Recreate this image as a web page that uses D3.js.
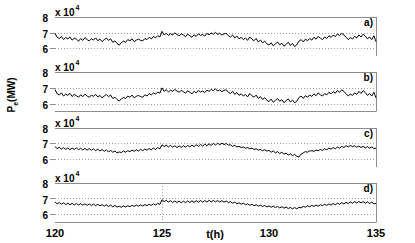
<!DOCTYPE html>
<html>
<head>
<meta charset="utf-8">
<script src="https://cdn.jsdelivr.net/npm/d3@7"></script>
<style>
  body { margin: 0; background: #fff; }
  svg { display: block; }
  text { font-family: "Liberation Sans", Arial, sans-serif; font-weight: bold; fill: #000; }
</style>
</head>
<body>
<div id="chart"></div>
<script>
// sampling of the traces (hours)
var t0 = 120, dt = 0.1;

// Pe in units of 10^4 MW, one row per hour
var seriesA = [
  6.95, 6.70, 6.62, 6.75, 6.55, 6.68, 6.60, 6.72, 6.52, 6.64,
  6.58, 6.45, 6.62, 6.50, 6.68, 6.55, 6.47, 6.60, 6.52, 6.66,
  6.48, 6.58, 6.42, 6.55, 6.65, 6.50, 6.60, 6.38, 6.47, 6.30,
  6.20, 6.35, 6.45, 6.38, 6.55, 6.48, 6.60, 6.42, 6.52, 6.58,
  6.50, 6.47, 6.62, 6.55, 6.70, 6.60, 6.75, 6.66, 6.80, 6.72,
  7.08, 6.85, 6.95, 6.82, 6.92, 6.86, 6.98, 6.88, 6.80, 6.92,
  6.85, 6.74, 6.90, 6.80, 6.70, 6.86, 6.76, 6.92, 6.82, 6.88,
  6.78, 6.95, 6.86, 6.98, 6.90, 7.02, 6.88, 6.96, 6.84, 6.92,
  6.95, 6.80, 6.72, 6.85, 6.65, 6.78, 6.60, 6.70, 6.55, 6.66,
  6.50, 6.72, 6.58, 6.48, 6.62, 6.40, 6.52, 6.34, 6.45, 6.28,
  6.20, 6.35, 6.15, 6.28, 6.40, 6.22, 6.32, 6.12, 6.25, 6.38,
  6.18, 6.30, 6.10, 6.22, 6.45, 6.55, 6.40, 6.58, 6.48, 6.62,
  6.52, 6.70, 6.58, 6.76, 6.64, 6.55, 6.72, 6.62, 6.80, 6.70,
  6.84, 6.74, 6.92, 6.80, 6.95, 6.85, 6.70, 6.55, 6.68, 6.60,
  6.75, 6.66, 6.85, 6.72, 6.90, 6.78, 6.60, 6.72, 6.55, 6.80,
  6.42
];

var seriesB = [
  6.90, 6.62, 6.55, 6.68, 6.48, 6.60, 6.52, 6.65, 6.45, 6.58,
  6.50, 6.40, 6.56, 6.44, 6.60, 6.48, 6.40, 6.54, 6.46, 6.58,
  6.42, 6.52, 6.36, 6.48, 6.58, 6.44, 6.54, 6.32, 6.40, 6.26,
  6.15, 6.30, 6.38, 6.32, 6.48, 6.40, 6.54, 6.36, 6.46, 6.52,
  6.44, 6.40, 6.56, 6.48, 6.64, 6.54, 6.68, 6.60, 6.74, 6.66,
  7.00, 6.78, 6.88, 6.75, 6.85, 6.78, 6.90, 6.80, 6.72, 6.84,
  6.76, 6.66, 6.82, 6.72, 6.62, 6.78, 6.68, 6.84, 6.74, 6.80,
  6.70, 6.86, 6.78, 6.90, 6.82, 6.94, 6.80, 6.88, 6.76, 6.84,
  6.88, 6.72, 6.64, 6.78, 6.58, 6.70, 6.52, 6.62, 6.48, 6.58,
  6.42, 6.64, 6.50, 6.40, 6.54, 6.32, 6.44, 6.26, 6.38, 6.20,
  6.12, 6.28, 6.08, 6.20, 6.32, 6.14, 6.24, 6.05, 6.18, 6.30,
  6.10, 6.22, 6.04, 6.15, 6.38, 6.48, 6.32, 6.50, 6.40, 6.55,
  6.45, 6.62, 6.50, 6.68, 6.56, 6.48, 6.64, 6.55, 6.72, 6.62,
  6.76, 6.66, 6.84, 6.72, 6.88, 6.78, 6.62, 6.48, 6.60, 6.52,
  6.68, 6.58, 6.78, 6.64, 6.82, 6.70, 6.52, 6.64, 6.48, 6.72,
  6.36
];

var seriesC = [
  6.78, 6.66, 6.74, 6.62, 6.72, 6.60, 6.70, 6.58, 6.69, 6.60,
  6.70, 6.58, 6.68, 6.56, 6.67, 6.55, 6.66, 6.54, 6.64, 6.52,
  6.62, 6.50, 6.60, 6.48, 6.58, 6.44, 6.54, 6.42, 6.50, 6.38,
  6.44, 6.40, 6.50, 6.42, 6.52, 6.46, 6.56, 6.48, 6.58, 6.50,
  6.60, 6.52, 6.63, 6.55, 6.66, 6.58, 6.69, 6.60, 6.72, 6.64,
  6.90, 6.78, 6.88, 6.76, 6.86, 6.74, 6.84, 6.72, 6.83, 6.73,
  6.84, 6.74, 6.86, 6.76, 6.88, 6.78, 6.90, 6.80, 6.92, 6.82,
  6.94, 6.84, 6.96, 6.86, 6.98, 6.88, 7.00, 6.90, 7.00, 6.91,
  6.98, 6.88, 6.90, 6.80, 6.86, 6.76, 6.80, 6.72, 6.76, 6.68,
  6.72, 6.64, 6.68, 6.60, 6.64, 6.56, 6.60, 6.52, 6.58, 6.50,
  6.54, 6.42, 6.50, 6.38, 6.46, 6.34, 6.42, 6.30, 6.36, 6.24,
  6.32, 6.20, 6.28, 6.16, 6.12, 6.30, 6.38, 6.46, 6.42, 6.50,
  6.52, 6.48, 6.56, 6.52, 6.60, 6.54, 6.64, 6.58, 6.68, 6.62,
  6.72, 6.64, 6.76, 6.68, 6.80, 6.72, 6.84, 6.76, 6.86, 6.78,
  6.84, 6.74, 6.82, 6.72, 6.80, 6.70, 6.78, 6.68, 6.76, 6.66,
  6.68
];

var seriesD = [
  6.78, 6.66, 6.74, 6.63, 6.72, 6.61, 6.70, 6.60, 6.69, 6.59,
  6.68, 6.58, 6.67, 6.57, 6.66, 6.56, 6.65, 6.55, 6.64, 6.54,
  6.63, 6.53, 6.61, 6.51, 6.60, 6.49, 6.58, 6.47, 6.56, 6.45,
  6.50, 6.44, 6.52, 6.46, 6.54, 6.47, 6.56, 6.49, 6.58, 6.51,
  6.59, 6.52, 6.61, 6.54, 6.63, 6.56, 6.66, 6.58, 6.68, 6.62,
  6.92, 6.80, 6.88, 6.77, 6.86, 6.75, 6.84, 6.74, 6.83, 6.73,
  6.83, 6.73, 6.84, 6.74, 6.85, 6.75, 6.86, 6.76, 6.87, 6.77,
  6.87, 6.77, 6.88, 6.78, 6.88, 6.78, 6.87, 6.77, 6.86, 6.76,
  6.84, 6.74, 6.80, 6.70, 6.77, 6.66, 6.73, 6.63, 6.70, 6.60,
  6.66, 6.57, 6.63, 6.54, 6.60, 6.51, 6.57, 6.49, 6.55, 6.46,
  6.53, 6.44, 6.51, 6.42, 6.49, 6.40, 6.47, 6.38, 6.45, 6.36,
  6.43, 6.34, 6.42, 6.33, 6.44, 6.40, 6.50, 6.44, 6.53, 6.47,
  6.56, 6.49, 6.58, 6.51, 6.60, 6.54, 6.63, 6.56, 6.65, 6.58,
  6.68, 6.60, 6.70, 6.63, 6.73, 6.65, 6.75, 6.68, 6.78, 6.70,
  6.80, 6.71, 6.81, 6.72, 6.80, 6.70, 6.78, 6.68, 6.76, 6.66,
  6.68
];

var panelLabels = ["a)", "b)", "c)", "d)"];
var xTicks = [120, 125, 130, 135];
var yTicks = [6, 7, 8];
var yDomain = [5.5, 8];
var xDomain = [120, 135];

var panels = [
  { label: panelLabels[0], values: seriesA, bottomLine: false, vline: null },
  { label: panelLabels[1], values: seriesB, bottomLine: true,  vline: null },
  { label: panelLabels[2], values: seriesC, bottomLine: false, vline: null },
  { label: panelLabels[3], values: seriesD, bottomLine: true,  vline: 125 }
];

var width = 415, height = 243;
var left = 55, right = 376;
var firstTop = 17, step = 55.3, panelH = 39;
var gray = "#8c8c8c";

var svg = d3.select("#chart").append("svg")
    .attr("width", width)
    .attr("height", height);

var x = d3.scaleLinear().domain(xDomain).range([left, right]);

panels.forEach(function(p, i) {
    var top = firstTop + i * step;
    var y = d3.scaleLinear().domain(yDomain).range([top + panelH, top]);
    var g = svg.append("g");

    // dotted grid at 6 and 7
    g.selectAll(".grid")
        .data(yTicks.filter(function(v) { return v < 8; }))
        .enter().append("line")
        .attr("x1", left).attr("x2", right)
        .attr("y1", function(d) { return Math.round(y(d)) + 0.5; })
        .attr("y2", function(d) { return Math.round(y(d)) + 0.5; })
        .attr("stroke", "#a0a0a0")
        .attr("stroke-width", 1)
        .attr("stroke-dasharray", "1,2");

    // small tick marks on the left
    g.selectAll(".tick")
        .data(yTicks.filter(function(v) { return v < 8; }))
        .enter().append("line")
        .attr("x1", left - 5).attr("x2", left)
        .attr("y1", function(d) { return Math.round(y(d)) + 0.5; })
        .attr("y2", function(d) { return Math.round(y(d)) + 0.5; })
        .attr("stroke", gray);

    if (p.vline !== null) {
        g.append("line")
            .attr("x1", Math.round(x(p.vline)) + 0.5)
            .attr("x2", Math.round(x(p.vline)) + 0.5)
            .attr("y1", top).attr("y2", top + panelH)
            .attr("stroke", "#a0a0a0")
            .attr("stroke-dasharray", "1,2");
    }

    // box: top and right, bottom only on some panels
    g.append("line")
        .attr("x1", left).attr("x2", right + 0.5)
        .attr("y1", Math.round(y(8)) + 0.5).attr("y2", Math.round(y(8)) + 0.5)
        .attr("stroke", gray);
    g.append("line")
        .attr("x1", Math.round(right) + 0.5).attr("x2", Math.round(right) + 0.5)
        .attr("y1", Math.round(top)).attr("y2", Math.round(top + panelH))
        .attr("stroke", gray);
    if (p.bottomLine) {
        g.append("line")
            .attr("x1", left).attr("x2", right + 0.5)
            .attr("y1", Math.round(top + panelH) + 0.5)
            .attr("y2", Math.round(top + panelH) + 0.5)
            .attr("stroke", gray);
    }

    // trace
    var line = d3.line()
        .x(function(d, k) { return x(t0 + k * dt); })
        .y(function(d) { return y(d); });

    g.append("path")
        .datum(p.values)
        .attr("d", line)
        .attr("fill", "none")
        .attr("stroke", "#000")
        .attr("stroke-width", 1);

    // y tick labels
    g.selectAll(".ylab")
        .data(yTicks)
        .enter().append("text")
        .attr("x", left - 7)
        .attr("y", function(d) { return y(d) + 5; })
        .attr("text-anchor", "end")
        .style("font-size", "10px")
        .text(function(d) { return d; });

    // exponent label
    var ex = g.append("text")
        .attr("x", left)
        .attr("y", top - 1)
        .style("font-size", "10px");
    ex.append("tspan").text("x 10");
    ex.append("tspan")
        .attr("dx", 1)
        .attr("dy", -6)
        .style("font-size", "7px")
        .text("4");

    // panel label
    g.append("text")
        .attr("x", right - 3)
        .attr("y", top + 9)
        .attr("text-anchor", "end")
        .style("font-size", "10px")
        .text(p.label);
});

// x tick labels under the last panel
svg.selectAll(".xlab")
    .data(xTicks)
    .enter().append("text")
    .attr("x", function(d) { return x(d); })
    .attr("y", 237)
    .attr("text-anchor", "middle")
    .style("font-size", "11px")
    .text(function(d) { return d; });

svg.append("text")
    .attr("x", 215)
    .attr("y", 238)
    .attr("text-anchor", "middle")
    .style("font-size", "11px")
    .text("t(h)");

// y axis title
var yt = svg.append("text")
    .attr("transform", "translate(15,95) rotate(-90)")
    .attr("text-anchor", "middle")
    .style("font-size", "10px");
yt.append("tspan").text("P");
yt.append("tspan").attr("dy", 3).style("font-size", "7px").text("e");
yt.append("tspan").attr("dy", -3).text("(MW)");
</script>
</body>
</html>
